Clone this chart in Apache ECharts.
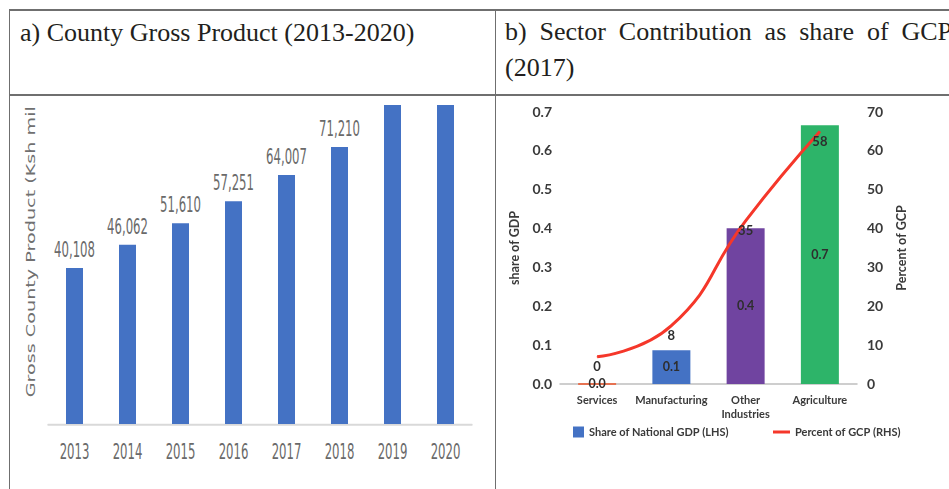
<!DOCTYPE html>
<html>
<head>
<meta charset="utf-8">
<script src="https://cdn.jsdelivr.net/npm/echarts@6/dist/echarts.min.js"></script>
<style>
  html, body { margin: 0; padding: 0; background: #fff; width: 949px; height: 489px; overflow: hidden; }
  .rule { position: absolute; background: #6f6f6f; }
  .title { position: absolute; font-family: "Liberation Serif", "DejaVu Serif", serif; font-size: 26px; line-height: 36px; color: #231f20; }
  #titleB { text-align: justify; }
  #gcpChart { position: absolute; left: 10px; top: 96px; width: 484px; height: 246px; transform: scaleY(1.6); transform-origin: 0 0; }
  #sectorChart { position: absolute; left: 496px; top: 96px; width: 453px; height: 393px; }
</style>
</head>
<body>
<!-- table frame -->
<div class="rule" style="left:9px; top:9px; width:960px; height:1.5px;"></div>
<div class="rule" style="left:9px; top:94px; width:960px; height:1.5px;"></div>
<div class="rule" style="left:8.5px; top:9px; width:1.5px; height:490px;"></div>
<div class="rule" style="left:494.5px; top:9px; width:1.5px; height:490px;"></div>

<div class="title" id="titleA" style="left:20px; top:15px; width:470px;">a) County Gross Product (2013-2020)</div>
<div class="title" id="titleB" style="left:505px; top:14px; width:447px;">b) Sector Contribution as share of GCP (2017)</div>

<div id="gcpChart"></div>
<div id="sectorChart"></div>

<script>
// ---- County Gross Product, Ksh million ----
const years = ['2013', '2014', '2015', '2016', '2017', '2018', '2019', '2020'];
const gcpValues = [40108, 46062, 51610, 57251, 64007, 71210, 82000, 82000];
const gcpAxisMax = 82000;

// ---- Sector contribution, 2017 ----
const sectors = ['Services', 'Manufacturing', 'Other\nIndustries', 'Agriculture'];
const shareOfGDP = [0, 0.087, 0.401, 0.666];
const percentOfGCP = [0, 8, 35, 58];
const sectorColors = ['#ED7D31', '#4472C4', '#7044A0', '#2DB469'];

const narrowFont = '"Liberation Sans Narrow", "Arial Narrow", "DejaVu Sans Condensed", sans-serif';
const labelFont = 'Lato, "Open Sans", sans-serif';

// Left panel: columns by year
const gcpChart = echarts.init(document.getElementById('gcpChart'), null, { renderer: 'svg' });
gcpChart.setOption({
  animation: false,
  grid: { left: 38, right: 22, top: 5.6, bottom: 41 },
  xAxis: {
    type: 'category',
    data: years,
    axisLine: { lineStyle: { color: '#d9d9d9', width: 1.3 } },
    axisTick: { show: false },
    axisLabel: { margin: 11, fontFamily: narrowFont, fontSize: 13, color: '#6a6a6a' }
  },
  yAxis: {
    type: 'value',
    min: 0,
    max: gcpAxisMax,
    axisLine: { show: false },
    axisTick: { show: false },
    axisLabel: { show: false },
    splitLine: { show: false },
    name: 'Gross County Product (Ksh mil',
    nameLocation: 'middle',
    nameRotate: 90,
    nameGap: 11,
    nameTextStyle: { fontFamily: '"DejaVu Sans", Verdana, sans-serif', fontSize: 12, color: '#707070', padding: [0, 0, 0, 16] }
  },
  series: [{
    type: 'bar',
    barWidth: 17,
    itemStyle: { color: '#4472C4' },
    label: {
      show: true,
      position: 'top',
      distance: 5,
      fontFamily: narrowFont,
      fontSize: 13,
      color: '#6a6a6a',
      formatter: p => p.value.toLocaleString('en-US')
    },
    data: gcpValues.map(v => v < gcpAxisMax ? v : { value: v, label: { show: false } })
  }]
});

// Right panel: sector shares (bars, LHS) and percent of GCP (line, RHS)
const sectorChart = echarts.init(document.getElementById('sectorChart'));
const axisText = { fontFamily: labelFont, fontWeight: 'bold', color: '#3a3a3a' };
sectorChart.setOption({
  animation: false,
  grid: { left: 64, right: 92, top: 16, bottom: 105 },
  legend: [
    {
      data: [{ name: 'Share of National GDP (LHS)', icon: 'rect' }],
      left: 72, top: 325.5, itemWidth: 11, itemHeight: 11, itemGap: 5,
      textStyle: Object.assign({ fontSize: 11 }, axisText)
    },
    {
      data: [{ name: 'Percent of GCP (RHS)', icon: 'rect' }],
      left: 272, top: 325.5, itemWidth: 17, itemHeight: 3,
      textStyle: Object.assign({ fontSize: 11 }, axisText)
    }
  ],
  xAxis: {
    type: 'category',
    data: sectors,
    axisLine: { lineStyle: { color: '#bfbfbf', width: 1.5 } },
    axisTick: { show: false },
    axisLabel: Object.assign({ margin: 9, fontSize: 11, lineHeight: 14, interval: 0 }, axisText)
  },
  yAxis: [
    {
      type: 'value', min: 0, max: 0.7, interval: 0.1,
      axisLine: { show: false }, axisTick: { show: false }, splitLine: { show: false },
      axisLabel: Object.assign({ margin: 8, fontSize: 14, formatter: v => v.toFixed(1) }, axisText),
      name: 'share of GDP', nameLocation: 'middle', nameRotate: 90, nameGap: 38,
      nameTextStyle: Object.assign({ fontSize: 12.5 }, axisText)
    },
    {
      type: 'value', min: 0, max: 70, interval: 10, position: 'right',
      axisLine: { show: false }, axisTick: { show: false }, splitLine: { show: false },
      axisLabel: Object.assign({ margin: 10, fontSize: 14 }, axisText),
      name: 'Percent of GCP', nameLocation: 'middle', nameRotate: 90, nameGap: 38,
      nameTextStyle: Object.assign({ fontSize: 12.5 }, axisText)
    },
    {
      // the percent line is drawn on its own scale, raised against the RHS ticks
      type: 'value', min: -7, max: 63, show: false
    }
  ],
  series: [
    {
      name: 'Share of National GDP (LHS)',
      type: 'bar',
      barWidth: 38,
      itemStyle: { color: '#4472C4' },
      label: Object.assign({ show: true, position: 'inside', fontSize: 12.5, formatter: p => p.value.toFixed(1) }, axisText, { color: '#2e2e2e' }),
      data: shareOfGDP.map((v, i) => ({
        value: v,
        itemStyle: { color: sectorColors[i], borderColor: i === 0 ? '#F0562A' : sectorColors[i], borderWidth: i === 0 ? 1.5 : 0 }
      }))
    },
    {
      name: 'Percent of GCP (RHS)',
      type: 'line',
      yAxisIndex: 2,
      smooth: 0.5,
      symbol: 'circle',
      symbolSize: 1,
      itemStyle: { color: '#F5372A' },
      lineStyle: { color: '#F5372A', width: 3 },
      label: Object.assign({ show: true, position: 'bottom', distance: 3, fontSize: 13 }, axisText, { color: '#2e2e2e' }),
      data: percentOfGCP
    }
  ]
});
</script>
</body>
</html>
